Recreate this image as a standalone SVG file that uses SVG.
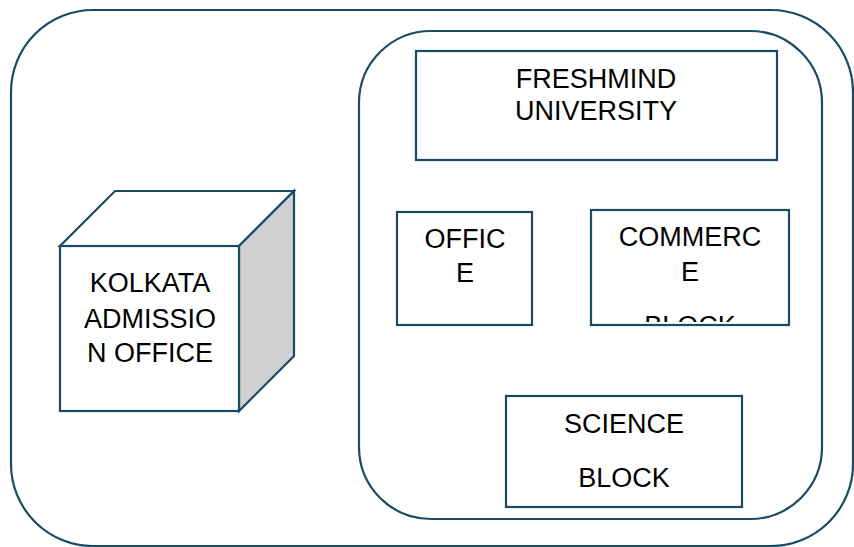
<svg xmlns="http://www.w3.org/2000/svg" width="854" height="547" viewBox="0 0 854 547">
<style>
.ln{fill:none;stroke:#1b4b64;stroke-width:2.2}
.bx{fill:#ffffff;stroke:#1b4b64;stroke-width:2.2}
.t{font-family:"Liberation Sans",Arial,sans-serif;font-size:27px;fill:#000;text-anchor:middle}
</style>
<defs>
<clipPath id="cc"><rect x="592" y="211" width="196" height="111"/></clipPath>
</defs>
<rect width="854" height="547" fill="#ffffff"/>
<g id="outer"><rect class="ln" x="11" y="10" width="842" height="536" rx="82" ry="82"/></g>
<g id="campus"><rect class="ln" x="359" y="31" width="463" height="488" rx="72" ry="72"/></g>
<g id="kolkata">
<polygon class="bx" points="60,246 115,191 294,191 239,246"/>
<polygon points="239,246 294,191 294,356 239,411" fill="#d0d0d0" stroke="#1b4b64" stroke-width="2.2"/>
<rect class="bx" x="60" y="246" width="179" height="165"/>
<text class="t" x="150" y="292">KOLKATA</text>
<text class="t" x="150" y="328">ADMISSIO</text>
<text class="t" x="150" y="362">N OFFICE</text>
</g>
<g id="freshmind">
<rect class="bx" x="416" y="51" width="361" height="109"/>
<text class="t" x="596" y="88">FRESHMIND</text>
<text class="t" x="596" y="120">UNIVERSITY</text>
</g>
<g id="office">
<rect class="bx" x="397" y="212" width="135" height="113"/>
<text class="t" x="465" y="248">OFFIC</text>
<text class="t" x="465" y="282">E</text>
</g>
<g id="commerce">
<rect class="bx" x="591" y="210" width="198" height="115"/>
<text class="t" x="690" y="246">COMMERC</text>
<text class="t" x="690" y="281">E</text>
<text class="t" x="690" y="335" clip-path="url(#cc)">BLOCK</text>
</g>
<g id="science">
<rect class="bx" x="506" y="396" width="236" height="111"/>
<text class="t" x="624" y="433">SCIENCE</text>
<text class="t" x="624" y="487">BLOCK</text>
</g>
<g id="connectors"></g>
</svg>
